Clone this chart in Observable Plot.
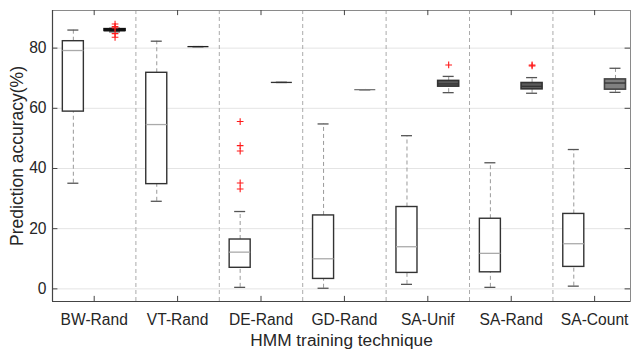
<!DOCTYPE html>
<html>
<head>
<meta charset="utf-8">
<script src="https://cdn.jsdelivr.net/npm/d3@7"></script>
<script src="https://cdn.jsdelivr.net/npm/@observablehq/plot@0.6"></script>
<style>
  html, body { margin: 0; padding: 0; background: #fff; }
  #chart svg { display: block; }
</style>
</head>
<body>
<div id="chart"></div>
<script>
const groups = ["BW-Rand", "VT-Rand", "DE-Rand", "GD-Rand", "SA-Unif", "SA-Rand", "SA-Count"];
const yTicks = [0, 20, 40, 60, 80];

// left (white) boxes
const leftLo  = [35.1, 29.1, 0.5, 0.2, 1.5, 0.5, 0.9];
const leftQ1  = [58.9, 34.8, 7.0, 3.3, 5.3, 5.5, 7.3];
const leftMed = [79.2, 54.6, 12.2, 10.0, 14.0, 11.8, 15.0];
const leftQ3  = [82.3, 71.8, 16.4, 24.4, 27.2, 23.3, 24.9];
const leftHi  = [86.0, 82.3, 25.7, 54.8, 50.9, 41.9, 46.3];

// right (filled) boxes
const rightLo  = [85.4, 80.5, 68.6, 66.2, 65.2, 65.0, 65.3];
const rightQ1  = [85.7, 80.5, 68.6, 66.2, 67.2, 66.3, 66.2];
const rightMed = [86.0, 80.5, 68.6, 66.2, 68.1, 67.3, 68.4];
const rightQ3  = [86.3, 80.5, 68.6, 66.2, 69.1, 68.4, 69.6];
const rightHi  = [86.6, 80.5, 68.6, 66.2, 70.6, 70.2, 73.3];
const rightFill = ["#888", "#333", "#444", "#777", "#5a5a5a", "#5a5a5a", "#808080"];
const rightStroke = ["#111", "#222", "#333", "#777", "#333", "#333", "#444"];

// outliers
const outGroup = [1, 1, 1, 1, 1, 3, 3, 3, 3, 3, 5, 6, 6];
const outSide  = ["R", "R", "R", "R", "R", "L", "L", "L", "L", "L", "R", "R", "R"];
const outValue = [88.0, 87.2, 86.7, 84.8, 83.6, 55.6, 47.6, 45.8, 35.2, 33.2, 74.4, 74.4, 74.1];

const xDomain = [0.5, 7.43];
const yDomain = [-4.2, 92.5];
const off = 0.25, hw = 0.126, cw = 0.066;

const left = groups.map((g, i) => ({pos: i + 1 - off, lo: leftLo[i], q1: leftQ1[i], med: leftMed[i], q3: leftQ3[i], hi: leftHi[i]}));
const right = groups.map((g, i) => ({pos: i + 1 + off, lo: rightLo[i], q1: rightQ1[i], med: rightMed[i], q3: rightQ3[i], hi: rightHi[i], fill: rightFill[i], stroke: rightStroke[i]}));
const outs = outValue.map((v, i) => ({pos: outGroup[i] + (outSide[i] === "L" ? -off : off), v}));
const seps = d3.range(1.5, 7, 1);
const centers = groups.map((g, i) => i + 1);
const font = "Liberation Sans, Arial, Helvetica, sans-serif";

const chart = Plot.plot({
  width: 631,
  height: 350,
  marginLeft: 52,
  marginRight: 1,
  marginTop: 10,
  marginBottom: 49,
  style: {fontFamily: font, background: "#fff"},
  x: {domain: xDomain, axis: null},
  y: {domain: yDomain, axis: null},
  marks: [
    Plot.ruleY(yTicks, {stroke: "#e4e4e4", strokeWidth: 1}),
    Plot.ruleX(seps, {stroke: "#aaa", strokeDasharray: "4,3", strokeWidth: 1}),
    // whiskers
    Plot.ruleX([...left, ...right], {x: "pos", y1: "q3", y2: "hi", stroke: "#999", strokeDasharray: "4,3"}),
    Plot.ruleX([...left, ...right], {x: "pos", y1: "lo", y2: "q1", stroke: "#999", strokeDasharray: "4,3"}),
    Plot.ruleY([...left, ...right], {y: "hi", x1: d => d.pos - cw, x2: d => d.pos + cw, stroke: "#555", strokeWidth: 1.3}),
    Plot.ruleY([...left, ...right], {y: "lo", x1: d => d.pos - cw, x2: d => d.pos + cw, stroke: "#555", strokeWidth: 1.3}),
    // left boxes
    Plot.rect(left, {x1: d => d.pos - hw, x2: d => d.pos + hw, y1: "q1", y2: "q3", fill: "#fff", stroke: "#333", strokeWidth: 1.4}),
    Plot.ruleY(left, {y: "med", x1: d => d.pos - hw, x2: d => d.pos + hw, stroke: "#aaa", strokeWidth: 1.3}),
    // right boxes
    Plot.rect(right, {x1: d => d.pos - hw, x2: d => d.pos + hw, y1: "q1", y2: "q3", fill: "fill", stroke: "stroke", strokeWidth: 1.6}),
    Plot.ruleY(right, {y: "med", x1: d => d.pos - hw, x2: d => d.pos + hw, stroke: (d, i) => i === 0 ? "#111" : (i <= 3 ? d.stroke : "#333"), strokeWidth: (d, i) => i === 0 ? 2.5 : 1.3}),
    // outliers
    Plot.dot(outs, {x: "pos", y: "v", symbol: "plus", r: 2.3, fill: "none", stroke: "#ff1a1a", strokeWidth: 1.1}),
    // frame & ticks
    Plot.frame({stroke: "#8a8a8a", strokeWidth: 1}),
    Plot.ruleX(centers, {x: d => d, y1: yDomain[0], y2: yDomain[0] + 1.7, stroke: "#444"}),
    Plot.ruleX(centers, {x: d => d, y1: yDomain[1] - 1.7, y2: yDomain[1], stroke: "#444"}),
    Plot.ruleY(yTicks, {y: d => d, x1: xDomain[0], x2: xDomain[0] + 0.065, stroke: "#444"}),
    Plot.ruleY(yTicks, {y: d => d, x1: xDomain[1] - 0.065, x2: xDomain[1], stroke: "#444"}),
    Plot.ruleX([xDomain[0]], {stroke: "#444", strokeWidth: 1.2}),
    Plot.ruleY([yDomain[0]], {stroke: "#444", strokeWidth: 1.2}),
    // tick labels
    Plot.text(centers, {x: d => d, text: d => groups[d - 1], frameAnchor: "bottom", dy: 18, fontSize: 15.6, fill: "#262626", lineAnchor: "middle"}),
    Plot.text(yTicks, {y: d => d, text: d => String(d), frameAnchor: "left", dx: -6, textAnchor: "end", fontSize: 15.6, fill: "#262626"}),
    // axis titles
    Plot.text(["HMM training technique"], {frameAnchor: "bottom", dy: 39, fontSize: 17.3, fill: "#262626", lineAnchor: "middle"}),
    Plot.text(["Prediction accuracy(%)"], {frameAnchor: "left", dx: -35, rotate: -90, textAnchor: "middle", lineAnchor: "middle", fontSize: 17.5, fill: "#262626"})
  ]
});
document.getElementById("chart").appendChild(chart);
</script>
</body>
</html>
